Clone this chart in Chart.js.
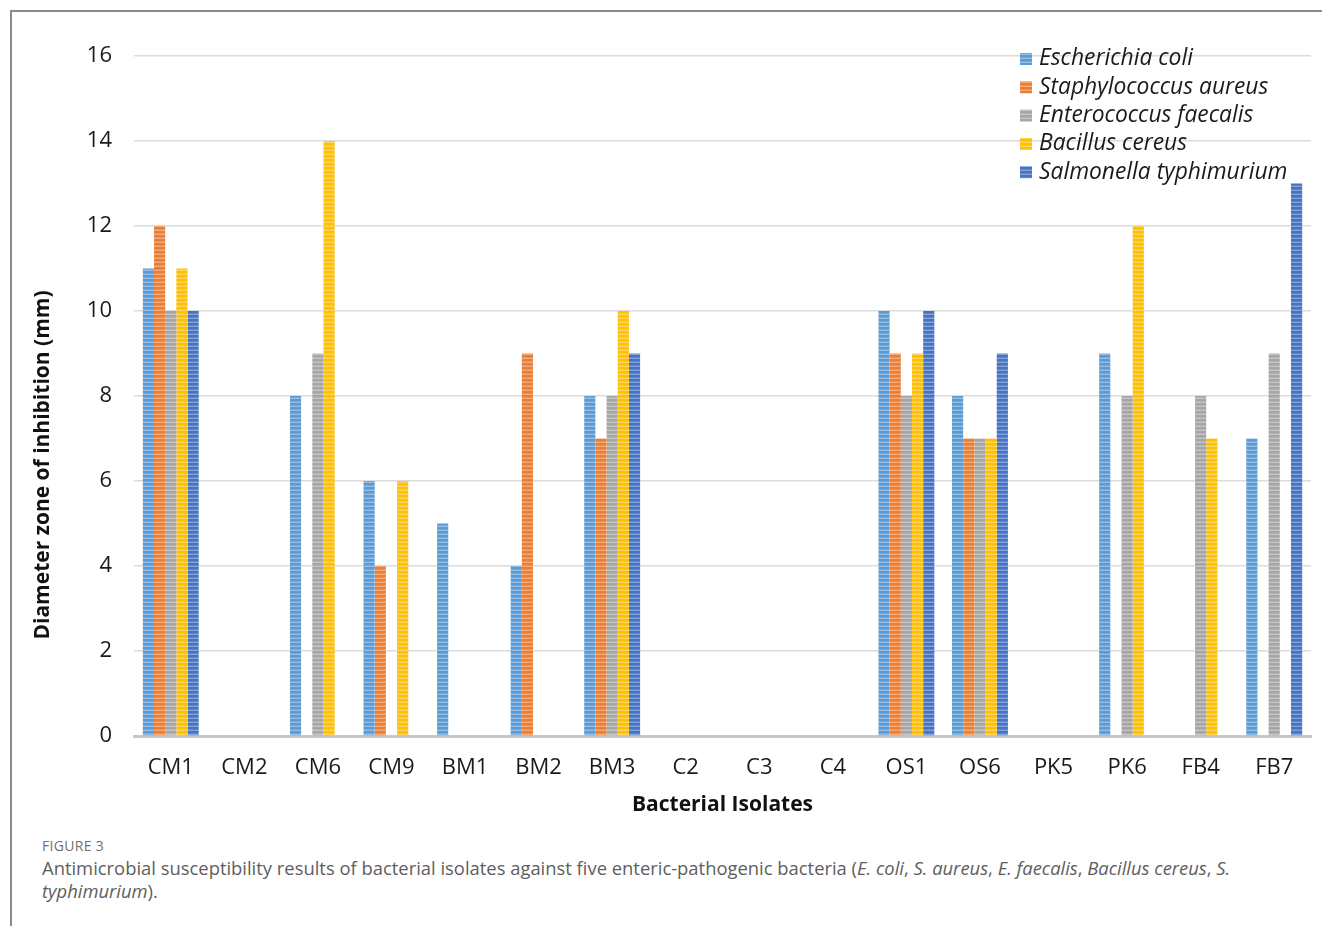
<!DOCTYPE html>
<html>
<head>
<meta charset="utf-8">
<script src="https://cdn.jsdelivr.net/npm/chart.js@4.4.1/dist/chart.umd.min.js"></script>
<style>
  html, body { margin: 0; padding: 0; background: #fff; }
  body { width: 1322px; height: 926px; position: relative; overflow: hidden; }
  .frame { position: absolute; left: 10px; top: 10px; width: 1312px; height: 916px;
           border-left: 2px solid #8a8a8a; border-top: 2px solid #8a8a8a; box-sizing: border-box; }
  #wrap { position: absolute; left: 12px; top: 12px; width: 1310px; height: 820px; }
  .fig { position: absolute; left: 42px; top: 836px; font-family: "Open Sans", sans-serif;
         font-size: 14px; color: #6f6f6f; letter-spacing: 0.3px; }
  .cap { position: absolute; left: 42px; top: 856px; width: 1275px; font-family: "Open Sans", sans-serif;
         font-size: 18.4px; line-height: 23px; color: #5e5e5e; white-space: nowrap; }
</style>
</head>
<body>
<div class="frame"></div>
<div id="wrap"><canvas id="c" width="1310" height="820"></canvas></div>
<div class="fig">FIGURE 3</div>
<div class="cap">Antimicrobial susceptibility results of bacterial isolates against five enteric-pathogenic bacteria (<i>E. coli</i>, <i>S. aureus</i>, <i>E. faecalis</i>, <i>Bacillus cereus</i>, <i>S.</i><br><i>typhimurium</i>).</div>
<script>
// Isolates along the x axis
const isolates = ["CM1", "CM2", "CM6", "CM9", "BM1", "BM2", "BM3", "C2", "C3", "C4", "OS1", "OS6", "PK5", "PK6", "FB4", "FB7"];

// Inhibition zone diameters (mm) for each test organism
const eColi       = [11, 0, 8, 6, 5, 4, 8, 0, 0, 0, 10, 8, 0, 9, 0, 7];
const sAureus     = [12, 0, 0, 4, 0, 9, 7, 0, 0, 0, 9, 7, 0, 0, 0, 0];
const eFaecalis   = [10, 0, 9, 0, 0, 0, 8, 0, 0, 0, 8, 7, 0, 8, 8, 9];
const bCereus     = [11, 0, 14, 6, 0, 0, 10, 0, 0, 0, 9, 7, 0, 12, 7, 0];
const sTyphi      = [10, 0, 0, 0, 0, 0, 9, 0, 0, 0, 10, 9, 0, 0, 0, 13];

const seriesNames = ["Escherichia coli", "Staphylococcus aureus", "Enterococcus faecalis", "Bacillus cereus", "Salmonella typhimurium"];
const seriesColors = ["#5b9bd5", "#ed7d31", "#a5a5a5", "#ffc000", "#4472c4"];

const yTitle = "Diameter zone of inhibition (mm)";

// Horizontal stripe fill: solid band followed by a lighter band
function lighten(hex, t) {
  const n = parseInt(hex.slice(1), 16);
  const r = (n >> 16) & 255, g = (n >> 8) & 255, b = n & 255;
  const m = v => Math.round(v + (255 - v) * t);
  return `rgb(${m(r)},${m(g)},${m(b)})`;
}
function stripes(hex) {
  const p = document.createElement("canvas");
  p.width = 4; p.height = 4;
  const g = p.getContext("2d");
  g.fillStyle = hex; g.fillRect(0, 0, 4, 4);
  g.fillStyle = lighten(hex, 0.35); g.fillRect(0, 2, 4, 1);
  g.fillStyle = lighten(hex, 0.15); g.fillRect(0, 1, 4, 1);
  return g.createPattern(p, "repeat");
}

const values = [eColi, sAureus, eFaecalis, bCereus, sTyphi];
const datasets = values.map((v, i) => ({
  label: seriesNames[i],
  data: v,
  backgroundColor: stripes(seriesColors[i]),
  borderWidth: 0,
  swatch: seriesColors[i]
}));

const font = '"Open Sans", "Noto Sans", sans-serif';

// Legend drawn inside the plot area, top right
const insideLegend = {
  id: "insideLegend",
  afterDatasetsDraw(chart) {
    const ctx = chart.ctx;
    const x0 = 1008, y0 = 47, step = 28.3;
    ctx.save();
    ctx.font = `italic 22.8px ${font}`;
    ctx.textBaseline = "middle";
    chart.data.datasets.forEach((ds, i) => {
      const y = y0 + i * step;
      ctx.fillStyle = stripes(ds.swatch);
      ctx.fillRect(x0, y - 6, 12, 12);
      ctx.fillStyle = "#1a1a1a";
      ctx.fillText(ds.label, x0 + 19, y);
    });
    ctx.restore();
  }
};

// Rotated y-axis title, set a little below the plot centre
const yAxisTitle = {
  id: "yAxisTitle",
  afterDraw(chart) {
    const ctx = chart.ctx;
    ctx.save();
    ctx.translate(31, 453);
    ctx.rotate(-Math.PI / 2);
    ctx.font = `bold 21px ${font}`;
    ctx.fillStyle = "#111";
    ctx.textAlign = "center";
    ctx.textBaseline = "middle";
    ctx.fillText(yTitle, 0, 0);
    ctx.restore();
  }
};

new Chart(document.getElementById("c"), {
  type: "bar",
  data: { labels: isolates, datasets },
  options: {
    responsive: false,
    animation: false,
    layout: { padding: { top: 44, right: 11, left: 0, bottom: 0 } },
    plugins: { legend: { display: false }, tooltip: { enabled: false } },
    datasets: { bar: { categoryPercentage: 0.76, barPercentage: 1.0 } },
    scales: {
      x: {
        grid: { display: false, drawTicks: false },
        border: { display: true, color: "#c8c8c8", width: 3 },
        ticks: { color: "#1a1a1a", font: { family: font, size: 22 }, padding: 19 },
        title: { display: true, text: "Bacterial Isolates", color: "#111",
                 font: { family: font, size: 21, weight: "bold" }, padding: { top: 0, bottom: 14 } },
        afterFit(s) { s.height = 96; }
      },
      y: {
        min: 0, max: 16,
        ticks: { stepSize: 2, color: "#1a1a1a", font: { family: font, size: 22 }, padding: 22 },
        grid: { color: "#dcdcdc", lineWidth: 1.5, drawTicks: false },
        border: { display: false },
        afterFit(s) { s.width = 122; }
      }
    }
  },
  plugins: [insideLegend, yAxisTitle]
});
</script>
</body>
</html>
